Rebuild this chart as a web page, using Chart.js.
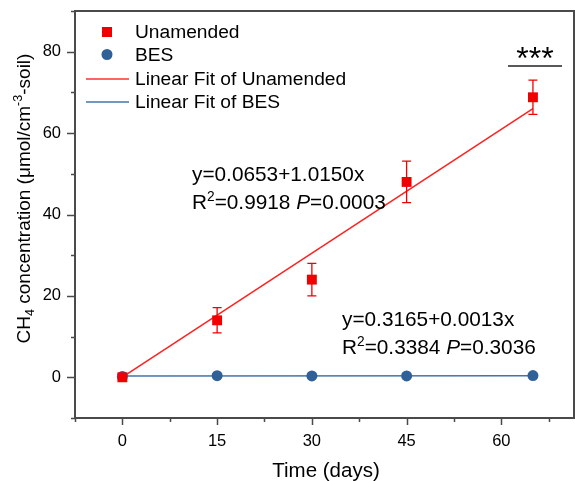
<!DOCTYPE html>
<html>
<head>
<meta charset="utf-8">
<script src="https://cdn.jsdelivr.net/npm/chart.js@4.4.0/dist/chart.umd.min.js"></script>
<style>
  html, body { margin: 0; padding: 0; background: #fff; overflow: hidden; }
  #wrap { width: 575px; height: 481px; overflow: hidden; }
</style>
</head>
<body>
<div id="wrap"><canvas id="ch4Chart" width="581" height="481"></canvas></div>
<script>
// incubation days and CH4 concentrations (umol/cm-3-soil)
var days = [0, 15, 30, 45, 65];
var unamended = [0, 14.0, 24.0, 48.0, 68.8];
var unamendedErr = [0, 3.1, 4.0, 5.1, 4.2];
var bes = [0.2, 0.4, 0.35, 0.35, 0.42];

// linear fits: [intercept, slope]
var fitUnamended = [0.0653, 1.0150];
var fitBES = [0.3165, 0.0013];

var xTicks = [0, 15, 30, 45, 60];
var xMinorTicks = [-7.5, 7.5, 22.5, 37.5, 52.5, 67.5];
var yTicks = [0, 20, 40, 60, 80];
var yMinorTicks = [-10, 10, 30, 50, 70, 90];

var RED = '#f00000';
var BLUE = '#2f6097';
var BLUE_LINE = '#4575a8';
var AXIS = '#4a4a4a';
var FONT = '"Liberation Sans", Arial, Helvetica, sans-serif';

function points(xs, ys) {
    return xs.map(function (x, i) { return {x: x, y: ys[i]}; });
}

function fitLine(fit) {
    var x0 = days[0], x1 = days[days.length - 1];
    return [{x: x0, y: fit[0] + fit[1] * x0}, {x: x1, y: fit[0] + fit[1] * x1}];
}

// draws a run of text pieces, each [text, style] with style '', 'i', 'sup' or 'sub'
function richText(ctx, parts, x, y, size, measureOnly) {
    var cx = x;
    parts.forEach(function (p) {
        var small = p[1] === 'sup' || p[1] === 'sub';
        var fs = small ? size * 0.66 : size;
        ctx.font = (p[1] === 'i' ? 'italic ' : '') + fs + 'px ' + FONT;
        var dy = p[1] === 'sup' ? -size * 0.4 : (p[1] === 'sub' ? size * 0.22 : 0);
        if (!measureOnly) ctx.fillText(p[0], cx, y + dy);
        cx += ctx.measureText(p[0]).width;
    });
    return cx - x;
}

// fixed axis box, no extra room for overhanging tick labels
function fixBox(size) {
    return function (s) {
        if (s.isHorizontal()) s.height = size; else s.width = size;
        s.paddingTop = s.paddingBottom = s.paddingLeft = s.paddingRight = 0;
    };
}

var decorations = {
    id: 'decorations',
    beforeDatasetsDraw: function (chart) {
        var ctx = chart.ctx, a = chart.chartArea;
        var xs = chart.scales.x, ys = chart.scales.y;
        ctx.save();
        ctx.strokeStyle = AXIS;
        ctx.lineWidth = 2;
        ctx.strokeRect(a.left, a.top, a.right - a.left, a.bottom - a.top);

        ctx.lineWidth = 1.5;
        ctx.beginPath();
        xTicks.forEach(function (v) {
            var px = Math.round(xs.getPixelForValue(v)) + 0.5;
            ctx.moveTo(px, a.bottom); ctx.lineTo(px, a.bottom + 7);
        });
        xMinorTicks.forEach(function (v) {
            var px = Math.round(xs.getPixelForValue(v)) + 0.5;
            ctx.moveTo(px, a.bottom); ctx.lineTo(px, a.bottom + 4);
        });
        yTicks.forEach(function (v) {
            var py = Math.round(ys.getPixelForValue(v)) + 0.5;
            ctx.moveTo(a.left, py); ctx.lineTo(a.left - 8, py);
        });
        yMinorTicks.forEach(function (v) {
            var py = Math.round(ys.getPixelForValue(v)) + 0.5;
            ctx.moveTo(a.left, py); ctx.lineTo(a.left - 4, py);
        });
        ctx.stroke();
        ctx.restore();
    },
    afterDatasetsDraw: function (chart) {
        var ctx = chart.ctx;
        var xs = chart.scales.x, ys = chart.scales.y;
        ctx.save();

        // error bars on the unamended means
        ctx.strokeStyle = RED;
        ctx.lineWidth = 1.3;
        days.forEach(function (d, i) {
            if (!unamendedErr[i]) return;
            var px = xs.getPixelForValue(d);
            var top = ys.getPixelForValue(unamended[i] + unamendedErr[i]);
            var bot = ys.getPixelForValue(unamended[i] - unamendedErr[i]);
            ctx.beginPath();
            ctx.moveTo(px, top); ctx.lineTo(px, bot);
            ctx.moveTo(px - 4.5, top); ctx.lineTo(px + 4.5, top);
            ctx.moveTo(px - 4.5, bot); ctx.lineTo(px + 4.5, bot);
            ctx.stroke();
        });

        // legend
        ctx.fillStyle = RED;
        ctx.fillRect(102, 27, 10, 10);
        ctx.fillStyle = BLUE;
        ctx.beginPath();
        ctx.arc(107, 54.5, 5.5, 0, Math.PI * 2);
        ctx.fill();
        ctx.lineWidth = 1.5;
        ctx.strokeStyle = '#ff3030';
        ctx.beginPath(); ctx.moveTo(86, 79); ctx.lineTo(129, 79); ctx.stroke();
        ctx.strokeStyle = BLUE_LINE;
        ctx.beginPath(); ctx.moveTo(86, 102); ctx.lineTo(129, 102); ctx.stroke();

        ctx.fillStyle = '#000';
        ctx.textBaseline = 'alphabetic';
        ctx.font = '19.2px ' + FONT;
        ctx.fillText('Unamended', 135, 38);
        ctx.fillText('BES', 135, 61);
        ctx.fillText('Linear Fit of Unamended', 135, 85);
        ctx.fillText('Linear Fit of BES', 135, 108);

        // regression equations
        richText(ctx, [['y=0.0653+1.0150x', '']], 192, 181, 20.8);
        richText(ctx, [['R', ''], ['2', 'sup'], ['=0.9918 ', ''], ['P', 'i'], ['=0.0003', '']], 192, 209, 20.8);
        richText(ctx, [['y=0.3165+0.0013x', '']], 342, 326, 20.8);
        richText(ctx, [['R', ''], ['2', 'sup'], ['=0.3384 ', ''], ['P', 'i'], ['=0.3036', '']], 342, 354, 20.8);

        // significance mark at day 65
        ctx.font = '32px ' + FONT;
        ctx.textAlign = 'center';
        var m = ctx.measureText('***');
        var mid = (m.actualBoundingBoxAscent - m.actualBoundingBoxDescent) / 2;
        ctx.fillText('***', 535, 52.5 + mid);
        ctx.strokeStyle = '#222';
        ctx.lineWidth = 1.5;
        ctx.beginPath(); ctx.moveTo(508, 66); ctx.lineTo(562, 66); ctx.stroke();

        // axis titles
        ctx.font = '20.5px ' + FONT;
        ctx.fillText('Time (days)', 326, 477);

        ctx.textAlign = 'left';
        var yTitle = [['CH', ''], ['4', 'sub'], [' concentration (\u03bcmol/cm', ''], ['-3', 'sup'], ['-soil)', '']];
        ctx.translate(30, 198.5);
        ctx.rotate(-Math.PI / 2);
        var w = richText(ctx, yTitle, 0, 0, 19, true);
        richText(ctx, yTitle, -w / 2, 0, 19);
        ctx.restore();
    }
};

var chart = new Chart(document.getElementById('ch4Chart').getContext('2d'), {
    type: 'scatter',
    data: {
        datasets: [
            {
                label: 'Unamended',
                data: points(days, unamended),
                pointStyle: 'rect',
                pointRadius: 7,
                backgroundColor: RED,
                borderColor: RED,
                borderWidth: 0
            },
            {
                label: 'BES',
                data: points(days, bes),
                pointStyle: 'circle',
                pointRadius: 5.5,
                backgroundColor: BLUE,
                borderColor: BLUE,
                borderWidth: 0
            },
            {
                label: 'Linear Fit of Unamended',
                data: fitLine(fitUnamended),
                showLine: true,
                pointRadius: 0,
                borderColor: '#ff2020',
                borderWidth: 1.5
            },
            {
                label: 'Linear Fit of BES',
                data: fitLine(fitBES),
                showLine: true,
                pointRadius: 0,
                borderColor: BLUE_LINE,
                borderWidth: 1.5
            }
        ]
    },
    options: {
        responsive: false,
        animation: false,
        layout: {padding: {top: 11, right: 1, left: 0, bottom: 0}},
        plugins: {
            legend: {display: false},
            tooltip: {enabled: false}
        },
        scales: {
            x: {
                type: 'linear',
                min: -7.5,
                max: 71.5,
                grid: {display: false, drawTicks: false},
                border: {display: false},
                afterFit: fixBox(63),
                afterBuildTicks: function (s) {
                    s.ticks = xTicks.map(function (v) { return {value: v}; });
                },
                ticks: {
                    autoSkip: false,
                    maxRotation: 0,
                    padding: 14,
                    color: '#000',
                    font: {family: FONT, size: 16.5}
                }
            },
            y: {
                type: 'linear',
                min: -10,
                max: 90,
                grid: {display: false, drawTicks: false},
                border: {display: false},
                afterFit: fixBox(75),
                afterBuildTicks: function (s) {
                    s.ticks = yTicks.map(function (v) { return {value: v}; });
                },
                ticks: {
                    autoSkip: false,
                    padding: 14,
                    color: '#000',
                    font: {family: FONT, size: 16.5}
                }
            }
        }
    },
    plugins: [decorations]
});
</script>
</body>
</html>
